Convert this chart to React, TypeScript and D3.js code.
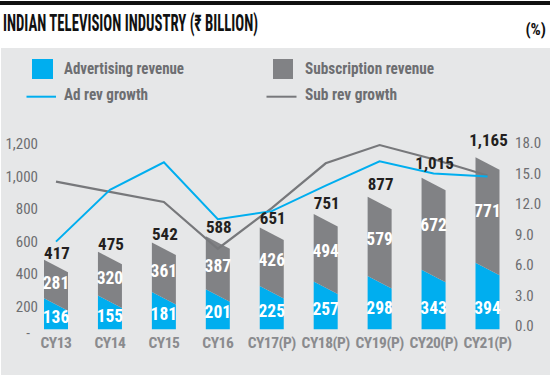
import React from "react";
import * as d3 from "d3";

const categories = ["CY13", "CY14", "CY15", "CY16", "CY17(P)", "CY18(P)", "CY19(P)", "CY20(P)", "CY21(P)"];
const adRevenue = [136, 155, 181, 201, 225, 257, 298, 343, 394];
const subRevenue = [281, 320, 361, 387, 426, 494, 579, 672, 771];
const totals = [417, 475, 542, 588, 651, 751, 877, 1015, 1165];
const adGrowth = [8.3, 13.4, 16.1, 10.5, 11.3, 13.8, 16.2, 15.0, 14.7];
const subGrowth = [14.2, 13.2, 12.2, 7.6, 11.6, 16.0, 17.8, 16.4, 14.8];
const leftTicks = [0, 200, 400, 600, 800, 1000, 1200];
const rightTicks = [0, 3, 6, 9, 12, 15, 18];

const W = 550;
const H = 378;
const BLUE = "#00aeef";
const GRAY_BAR = "#818285";
const GRAY_LINE = "#77787b";
const AXIS_TXT = "#6d6e71";
const FONT = "'Liberation Sans Narrow', 'Arial Narrow', 'Roboto Condensed', 'DejaVu Sans Condensed', sans-serif";

export default function App() {
  const x = d3.scalePoint<string>().domain(categories).range([56, 487.5]);
  const yBar = d3.scaleLinear().domain([0, 1200]).range([329.3, 329.3 - 164.4]);
  const yLabel = d3.scaleLinear().domain([0, 1200]).range([316, 316 - 181.2]);
  const yLeft = d3.scaleLinear().domain([0, 1200]).range([339.6, 144]);
  const yRight = d3.scaleLinear().domain([0, 18]).range([326, 143]);
  const slant = 12.5;
  const bw = 24;
  const fmt = d3.format(",");
  const fmt1 = d3.format(".1f");

  const line = d3
    .line<number>()
    .x((_, i) => x(categories[i]) as number)
    .y((d) => yRight(d));

  const legendText = { fontSize: 16, fontWeight: "bold" as const, fill: AXIS_TXT };

  return (
    <svg width={W} height={H} style={{ position: "absolute", left: 0, top: 0, fontFamily: FONT }}>
      <rect x={0} y={0} width={W} height={H} fill="#ffffff" />
      <rect x={0} y={1} width={W} height={4} fill="#111111" />
      <text
        x={3}
        y={31}
        fontSize={23}
        fontWeight="bold"
        fill="#111111"
        textLength={255}
        lengthAdjust="spacingAndGlyphs"
      >
        INDIAN TELEVISION INDUSTRY (₹ BILLION)
      </text>
      <text x={546} y={29} fontSize={16} fontWeight="bold" fill="#111111" textAnchor="end" dominantBaseline="central">
        (%)
      </text>
      <rect x={1} y={48} width={W - 1} height={327} fill="#e6e7e8" />

      {/* Legend */}
      <rect x={32} y={59} width={21} height={20} fill={BLUE} />
      <text x={64} y={68.5} dominantBaseline="central" {...legendText} textLength={120} lengthAdjust="spacingAndGlyphs">
        Advertising revenue
      </text>
      <rect x={273} y={59} width={20} height={20} fill={GRAY_BAR} />
      <text x={305} y={68.5} dominantBaseline="central" {...legendText} textLength={129} lengthAdjust="spacingAndGlyphs">
        Subscription revenue
      </text>
      <line x1={26.5} x2={56} y1={96.7} y2={96.7} stroke={BLUE} strokeWidth={2} />
      <text x={64} y={94.5} dominantBaseline="central" {...legendText} textLength={84} lengthAdjust="spacingAndGlyphs">
        Ad rev growth
      </text>
      <line x1={266.5} x2={296.5} y1={96.7} y2={96.7} stroke={GRAY_LINE} strokeWidth={2} />
      <text x={305} y={94.5} dominantBaseline="central" {...legendText} textLength={92} lengthAdjust="spacingAndGlyphs">
        Sub rev growth
      </text>

      {/* Left axis */}
      {leftTicks.map((t) => (
        <text
          key={"l" + t}
          x={t === 0 ? 28 : 38}
          y={t === 0 ? yLeft(t) - 7 : yLeft(t)}
          textAnchor={t === 0 ? "middle" : "end"}
          dominantBaseline="central"
          fontSize={15}
          fill={AXIS_TXT}
        >
          {t === 0 ? "-" : fmt(t)}
        </text>
      ))}

      {/* Right axis */}
      {rightTicks.map((t) => (
        <text
          key={"r" + t}
          x={515}
          y={yRight(t)}
          textAnchor="start"
          dominantBaseline="central"
          fontSize={15}
          fill={AXIS_TXT}
        >
          {fmt1(t)}
        </text>
      ))}

      {/* Bars */}
      {categories.map((c, i) => {
        const cx = x(c) as number;
        const x0 = cx - bw / 2;
        const x1 = cx + bw / 2;
        const b = yBar(0);
        const a = yBar(adRevenue[i]);
        const t = yBar(totals[i]);
        const blue = `M${x0},${b}L${x1},${b}L${x1},${a}L${x0},${a - slant}Z`;
        const gray = `M${x0},${a - slant}L${x1},${a}L${x1},${t}L${x0},${t - slant}Z`;
        const aMid = a - slant / 2;
        const tMid = t - slant / 2;
        const blueLabelY = Math.max((b + aMid) / 2, b - 21);
        const grayLabelY = aMid - 0.55 * (aMid - tMid);
        return (
          <g key={c}>
            <path d={blue} fill={BLUE} />
            <path d={gray} fill={GRAY_BAR} />
            <text
              x={cx}
              y={blueLabelY}
              textAnchor="middle"
              dominantBaseline="central"
              fontSize={17.5}
              fontWeight="bold"
              fill="#ffffff"
            >
              {fmt(adRevenue[i])}
            </text>
            <text
              x={cx}
              y={grayLabelY}
              textAnchor="middle"
              dominantBaseline="central"
              fontSize={17.5}
              fontWeight="bold"
              fill="#ffffff"
            >
              {fmt(subRevenue[i])}
            </text>
          </g>
        );
      })}

      {/* Lines */}
      <path d={line(subGrowth) || ""} fill="none" stroke={GRAY_LINE} strokeWidth={2.2} />
      <path d={line(adGrowth) || ""} fill="none" stroke={BLUE} strokeWidth={2} />

      {/* Totals */}
      {categories.map((c, i) => (
        <text
          key={"t" + c}
          x={(x(c) as number) + 1}
          y={yLabel(totals[i])}
          textAnchor="middle"
          dominantBaseline="central"
          fontSize={17}
          fontWeight="bold"
          fill="#231f20"
        >
          {fmt(totals[i])}
        </text>
      ))}

      {/* X labels */}
      {categories.map((c) => (
        <text
          key={"x" + c}
          x={x(c) as number}
          y={343}
          textAnchor="middle"
          dominantBaseline="central"
          fontSize={15.5}
          letterSpacing={-0.5}
          fontWeight="bold"
          fill="#8a8b8e"
        >
          {c}
        </text>
      ))}
    </svg>
  );
}
